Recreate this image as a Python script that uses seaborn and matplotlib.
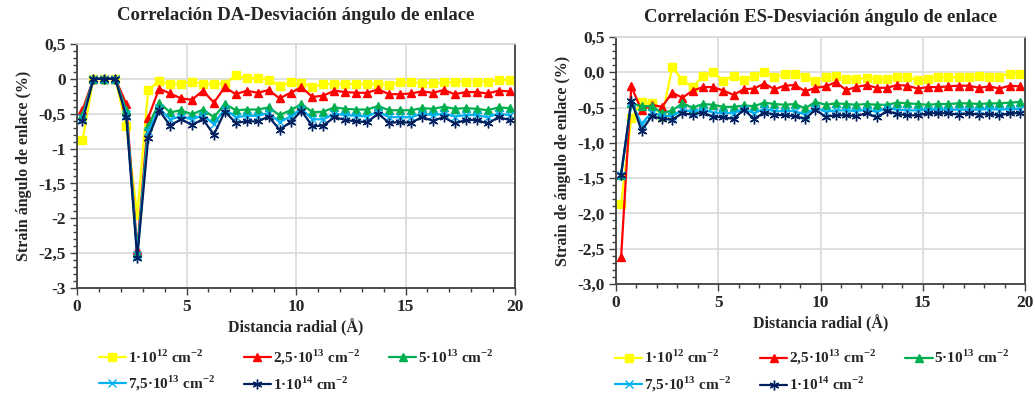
import numpy as np
import pandas as pd
import matplotlib
matplotlib.use("Agg")
import matplotlib.pyplot as plt
import seaborn as sns
from matplotlib.ticker import MultipleLocator, FuncFormatter

# ---------------- data ----------------
distance = [0.25, 0.75, 1.25, 1.75, 2.25, 2.75, 3.25, 3.75, 4.25, 4.75,
            5.25, 5.75, 6.25, 6.75, 7.25, 7.75, 8.25, 8.75, 9.25, 9.75,
            10.25, 10.75, 11.25, 11.75, 12.25, 12.75, 13.25, 13.75, 14.25, 14.75,
            15.25, 15.75, 16.25, 16.75, 17.25, 17.75, 18.25, 18.75, 19.25, 19.75]

series_labels = [r"1·10$^{\mathbf{12}}$ cm$^{\mathbf{-2}}$",
                 r"2,5·10$^{\mathbf{13}}$ cm$^{\mathbf{-2}}$",
                 r"5·10$^{\mathbf{13}}$ cm$^{\mathbf{-2}}$",
                 r"7,5·10$^{\mathbf{13}}$ cm$^{\mathbf{-2}}$",
                 r"1·10$^{\mathbf{14}}$ cm$^{\mathbf{-2}}$"]

# Left chart: DA
da_1e12 = [-0.88, 0.0, 0.0, 0.0, -0.68, -1.95, -0.16, -0.03, -0.08, -0.07,
           -0.05, -0.07, -0.07, -0.07, 0.05, 0.01, 0.01, -0.01, -0.10, -0.05,
           -0.06, -0.11, -0.08, -0.07, -0.07, -0.08, -0.07, -0.07, -0.09, -0.05,
           -0.04, -0.06, -0.06, -0.05, -0.04, -0.04, -0.04, -0.04, -0.02, -0.02]
da_25e13 = [-0.45, 0.0, 0.0, 0.0, -0.36, -2.45, -0.56, -0.14, -0.21, -0.28,
            -0.30, -0.17, -0.34, -0.12, -0.22, -0.17, -0.20, -0.16, -0.28, -0.20,
            -0.12, -0.26, -0.24, -0.17, -0.19, -0.20, -0.20, -0.15, -0.22, -0.22,
            -0.21, -0.18, -0.20, -0.16, -0.22, -0.19, -0.19, -0.21, -0.17, -0.18]
da_5e13 = [-0.52, 0.0, 0.0, 0.0, -0.45, -2.50, -0.68, -0.34, -0.48, -0.45,
           -0.51, -0.44, -0.55, -0.36, -0.45, -0.44, -0.44, -0.41, -0.52, -0.45,
           -0.36, -0.48, -0.47, -0.41, -0.43, -0.44, -0.44, -0.39, -0.45, -0.45,
           -0.45, -0.42, -0.43, -0.40, -0.43, -0.42, -0.43, -0.45, -0.41, -0.42]
da_75e13 = [-0.56, 0.0, 0.0, 0.0, -0.50, -2.52, -0.75, -0.42, -0.58, -0.54,
            -0.58, -0.52, -0.65, -0.43, -0.55, -0.53, -0.53, -0.49, -0.62, -0.54,
            -0.43, -0.58, -0.58, -0.50, -0.52, -0.53, -0.54, -0.47, -0.55, -0.55,
            -0.55, -0.50, -0.52, -0.50, -0.54, -0.52, -0.52, -0.55, -0.50, -0.52]
da_1e14 = [-0.61, 0.0, 0.0, 0.0, -0.54, -2.57, -0.85, -0.45, -0.67, -0.58,
           -0.66, -0.58, -0.80, -0.47, -0.63, -0.61, -0.61, -0.54, -0.73, -0.62,
           -0.46, -0.68, -0.67, -0.55, -0.59, -0.61, -0.62, -0.50, -0.63, -0.62,
           -0.63, -0.55, -0.60, -0.55, -0.64, -0.59, -0.59, -0.64, -0.55, -0.59]

# Right chart: ES
es_1e12 = [-1.86, -0.65, -0.42, -0.44, -0.63, 0.07, -0.11, -0.21, -0.05, 0.0,
           -0.12, -0.05, -0.11, -0.05, 0.0, -0.06, -0.03, -0.02, -0.06, -0.13,
           -0.07, -0.05, -0.10, -0.10, -0.08, -0.10, -0.10, -0.06, -0.07, -0.11,
           -0.09, -0.06, -0.07, -0.07, -0.07, -0.05, -0.06, -0.06, -0.02, -0.02]
es_25e13 = [-2.62, -0.20, -0.54, -0.46, -0.49, -0.29, -0.36, -0.26, -0.21, -0.21,
            -0.26, -0.32, -0.24, -0.23, -0.16, -0.24, -0.19, -0.18, -0.27, -0.22,
            -0.20, -0.14, -0.25, -0.21, -0.18, -0.22, -0.22, -0.18, -0.19, -0.23,
            -0.21, -0.21, -0.20, -0.19, -0.19, -0.22, -0.20, -0.23, -0.19, -0.20]
es_5e13 = [-1.45, -0.44, -0.48, -0.48, -0.58, -0.54, -0.44, -0.50, -0.45, -0.46,
           -0.49, -0.49, -0.47, -0.48, -0.43, -0.45, -0.46, -0.45, -0.51, -0.42,
           -0.46, -0.44, -0.45, -0.46, -0.45, -0.46, -0.46, -0.43, -0.44, -0.45,
           -0.46, -0.45, -0.45, -0.44, -0.44, -0.45, -0.44, -0.44, -0.43, -0.42]
es_75e13 = [-1.45, -0.42, -0.73, -0.57, -0.62, -0.62, -0.53, -0.56, -0.53, -0.57,
            -0.58, -0.58, -0.52, -0.58, -0.52, -0.55, -0.55, -0.55, -0.60, -0.50,
            -0.56, -0.54, -0.54, -0.55, -0.53, -0.56, -0.51, -0.53, -0.54, -0.54,
            -0.53, -0.53, -0.53, -0.53, -0.53, -0.53, -0.52, -0.53, -0.52, -0.52]
es_1e14 = [-1.45, -0.40, -0.83, -0.62, -0.66, -0.67, -0.58, -0.60, -0.57, -0.63,
           -0.64, -0.66, -0.53, -0.66, -0.57, -0.60, -0.61, -0.62, -0.66, -0.53,
           -0.63, -0.61, -0.61, -0.62, -0.58, -0.64, -0.55, -0.59, -0.61, -0.61,
           -0.58, -0.58, -0.58, -0.60, -0.58, -0.60, -0.59, -0.61, -0.58, -0.58]

x_ticks = [0, 5, 10, 15, 20]

# ---------------- style ----------------
colors = ["#FFFF00", "#FF0000", "#00B050", "#00B0F0", "#002060"]
markers = ["s", "^", "^", "x", (6, 2, 0)]
msizes = [5.5, 5.5, 5.5, 6, 7]

sns.set_theme(style="white")
plt.rcParams["font.family"] = ["Liberation Serif", "DejaVu Serif"]
plt.rcParams["font.weight"] = "bold"
plt.rcParams["mathtext.fontset"] = "custom"
plt.rcParams["mathtext.rm"] = "Liberation Serif:bold"
plt.rcParams["mathtext.bf"] = "Liberation Serif:bold"
plt.rcParams["axes.unicode_minus"] = False

fig = plt.figure(figsize=(10.35, 3.94), dpi=100)
axL = fig.add_axes([77 / 1035, 1 - 288 / 394, 438 / 1035, 244 / 394])
axR = fig.add_axes([616 / 1035, 1 - 284 / 394, 409 / 1035, 247 / 394])


def fmt_left(v, pos):
    if abs(v - round(v)) < 1e-9:
        return "%d" % round(v)
    return ("%.1f" % v).replace(".", ",")


def fmt_right(v, pos):
    s = "%.1f" % v
    if s == "-0.0":
        s = "0.0"
    return s.replace(".", ",")


def draw(ax, data, title, ylabel, yfmt, leg_y, tpad, leg_x):
    for vals, lab, c, m, ms in zip(data, series_labels, colors, markers, msizes):
        df = pd.DataFrame({"x": distance, "y": vals})
        sns.lineplot(data=df, x="x", y="y", ax=ax, color=c, linewidth=1.6,
                     marker=m, markersize=ms, markeredgecolor=c,
                     markeredgewidth=1.0, label=lab, legend=False)
    ax.set_xlim(0, 20)
    ax.set_ylim(-3, 0.5)
    ax.set_xticks(x_ticks)
    ax.xaxis.set_minor_locator(MultipleLocator(1))
    ax.yaxis.set_major_locator(MultipleLocator(0.5))
    ax.yaxis.set_minor_locator(MultipleLocator(0.1))
    ax.yaxis.set_major_formatter(FuncFormatter(yfmt))
    ax.grid(True, which="major", color="#d9d9d9", linewidth=1.2)
    ax.set_axisbelow(True)
    ax.tick_params(which="both", direction="out", left=True, bottom=True,
                   color="#404040", labelsize=12.5, pad=3)
    ax.tick_params(which="major", length=5, width=1)
    ax.tick_params(which="minor", length=3, width=1)
    for lbl in ax.get_xticklabels() + ax.get_yticklabels():
        lbl.set_fontweight("bold")
    for side in ["left", "bottom", "right"]:
        ax.spines[side].set_color("#404040")
        ax.spines[side].set_linewidth(1.3)
    ax.spines["top"].set_color("#d9d9d9")
    ax.set_title(title, fontsize=13.5, fontweight="bold", pad=tpad)
    ax.set_xlabel("Distancia radial (Å)", fontsize=11.5, fontweight="bold", labelpad=3)
    ax.set_ylabel(ylabel, fontsize=11.5, fontweight="bold", labelpad=5)
    handles, labels = ax.get_legend_handles_labels()
    order = [0, 3, 1, 4, 2]
    leg = ax.legend([handles[i] for i in order], [labels[i] for i in order],
                    loc="upper center", bbox_to_anchor=(leg_x, leg_y), ncol=3,
                    frameon=False, fontsize=11, handlelength=1.8,
                    handletextpad=0.1, columnspacing=1.9, labelspacing=0.55,
                    borderaxespad=0.0)
    for t in leg.get_texts():
        t.set_fontweight("bold")


draw(axL, [da_1e12, da_25e13, da_5e13, da_75e13, da_1e14],
     "Correlación DA-Desviación ángulo de enlace",
     "Strain ángulo de enlace (%)", fmt_left, -0.22, 17, 0.5)
draw(axR, [es_1e12, es_25e13, es_5e13, es_75e13, es_1e14],
     "Correlación ES-Desviación ángulo de enlace",
     "Strain de ángulo de enlace (%)", fmt_right, -0.235, 11, 0.48)

fig.savefig("out.png", dpi=100)
